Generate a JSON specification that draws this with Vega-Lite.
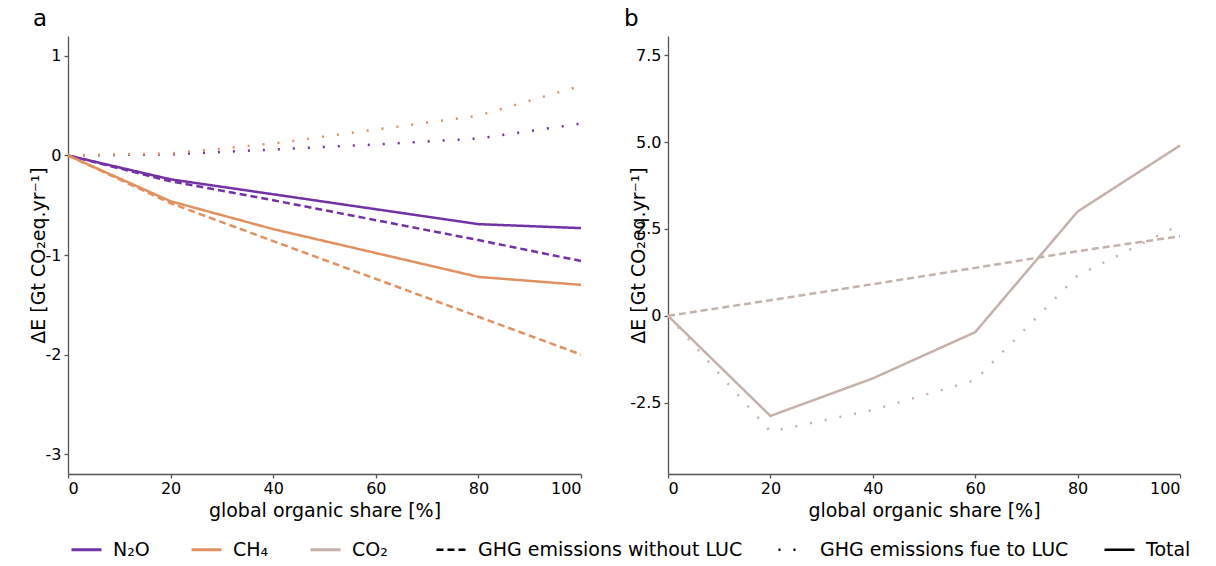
{
  "$schema": "https://vega.github.io/schema/vega-lite/v6.json",
  "padding": {"left": 29, "top": 8, "right": 5, "bottom": 0},
  "background": "white",
  "config": {
    "font": "DejaVu Sans",
    "view": {"stroke": null},
    "axis": {
      "grid": false,
      "domainColor": "#555555",
      "domainWidth": 1.3,
      "tickColor": "#555555",
      "tickWidth": 1.3,
      "tickSize": 4,
      "labelFont": "DejaVu Sans",
      "labelFontSize": 16,
      "labelColor": "#000000",
      "titleFont": "DejaVu Sans",
      "titleFontSize": 19,
      "titleFontWeight": "normal",
      "titleColor": "#000000"
    },
    "legend": {
      "labelFont": "DejaVu Sans",
      "labelFontSize": 19,
      "labelColor": "#000000",
      "labelLimit": 0,
      "symbolType": "stroke",
      "symbolSize": 900,
      "symbolStrokeWidth": 3,
      "labelOffset": 10,
      "columnPadding": 35,
      "padding": 0
    },
    "title": {"font": "DejaVu Sans", "fontSize": 23, "fontWeight": "normal", "color": "#000000"}
  },
  "datasets": {
    "emissions": [
      {"panel": "a", "gas": "N₂O", "type": "Total", "share": 0, "dE": 0},
      {"panel": "a", "gas": "N₂O", "type": "Total", "share": 20, "dE": -0.24},
      {"panel": "a", "gas": "N₂O", "type": "Total", "share": 40, "dE": -0.39},
      {"panel": "a", "gas": "N₂O", "type": "Total", "share": 60, "dE": -0.54},
      {"panel": "a", "gas": "N₂O", "type": "Total", "share": 80, "dE": -0.69},
      {"panel": "a", "gas": "N₂O", "type": "Total", "share": 100, "dE": -0.73},
      {"panel": "a", "gas": "N₂O", "type": "GHG emissions without LUC", "share": 0, "dE": 0},
      {"panel": "a", "gas": "N₂O", "type": "GHG emissions without LUC", "share": 20, "dE": -0.26},
      {"panel": "a", "gas": "N₂O", "type": "GHG emissions without LUC", "share": 40, "dE": -0.45},
      {"panel": "a", "gas": "N₂O", "type": "GHG emissions without LUC", "share": 60, "dE": -0.65},
      {"panel": "a", "gas": "N₂O", "type": "GHG emissions without LUC", "share": 80, "dE": -0.85},
      {"panel": "a", "gas": "N₂O", "type": "GHG emissions without LUC", "share": 100, "dE": -1.06},
      {"panel": "a", "gas": "N₂O", "type": "GHG emissions fue to LUC", "share": 0, "dE": 0},
      {"panel": "a", "gas": "N₂O", "type": "GHG emissions fue to LUC", "share": 20, "dE": 0.01},
      {"panel": "a", "gas": "N₂O", "type": "GHG emissions fue to LUC", "share": 40, "dE": 0.06},
      {"panel": "a", "gas": "N₂O", "type": "GHG emissions fue to LUC", "share": 60, "dE": 0.11},
      {"panel": "a", "gas": "N₂O", "type": "GHG emissions fue to LUC", "share": 80, "dE": 0.17},
      {"panel": "a", "gas": "N₂O", "type": "GHG emissions fue to LUC", "share": 100, "dE": 0.32},
      {"panel": "a", "gas": "CH₄", "type": "Total", "share": 0, "dE": 0},
      {"panel": "a", "gas": "CH₄", "type": "Total", "share": 20, "dE": -0.46},
      {"panel": "a", "gas": "CH₄", "type": "Total", "share": 40, "dE": -0.74},
      {"panel": "a", "gas": "CH₄", "type": "Total", "share": 60, "dE": -0.98},
      {"panel": "a", "gas": "CH₄", "type": "Total", "share": 80, "dE": -1.22},
      {"panel": "a", "gas": "CH₄", "type": "Total", "share": 100, "dE": -1.30},
      {"panel": "a", "gas": "CH₄", "type": "GHG emissions without LUC", "share": 0, "dE": 0},
      {"panel": "a", "gas": "CH₄", "type": "GHG emissions without LUC", "share": 20, "dE": -0.48},
      {"panel": "a", "gas": "CH₄", "type": "GHG emissions without LUC", "share": 40, "dE": -0.86},
      {"panel": "a", "gas": "CH₄", "type": "GHG emissions without LUC", "share": 60, "dE": -1.24},
      {"panel": "a", "gas": "CH₄", "type": "GHG emissions without LUC", "share": 80, "dE": -1.62},
      {"panel": "a", "gas": "CH₄", "type": "GHG emissions without LUC", "share": 100, "dE": -2.0},
      {"panel": "a", "gas": "CH₄", "type": "GHG emissions fue to LUC", "share": 0, "dE": 0},
      {"panel": "a", "gas": "CH₄", "type": "GHG emissions fue to LUC", "share": 20, "dE": 0.02},
      {"panel": "a", "gas": "CH₄", "type": "GHG emissions fue to LUC", "share": 40, "dE": 0.12},
      {"panel": "a", "gas": "CH₄", "type": "GHG emissions fue to LUC", "share": 60, "dE": 0.26},
      {"panel": "a", "gas": "CH₄", "type": "GHG emissions fue to LUC", "share": 80, "dE": 0.40},
      {"panel": "a", "gas": "CH₄", "type": "GHG emissions fue to LUC", "share": 100, "dE": 0.70},
      {"panel": "b", "gas": "CO₂", "type": "Total", "share": 0, "dE": 0},
      {"panel": "b", "gas": "CO₂", "type": "Total", "share": 20, "dE": -2.88},
      {"panel": "b", "gas": "CO₂", "type": "Total", "share": 40, "dE": -1.80},
      {"panel": "b", "gas": "CO₂", "type": "Total", "share": 60, "dE": -0.47},
      {"panel": "b", "gas": "CO₂", "type": "Total", "share": 80, "dE": 3.0},
      {"panel": "b", "gas": "CO₂", "type": "Total", "share": 100, "dE": 4.9},
      {"panel": "b", "gas": "CO₂", "type": "GHG emissions without LUC", "share": 0, "dE": 0},
      {"panel": "b", "gas": "CO₂", "type": "GHG emissions without LUC", "share": 20, "dE": 0.45},
      {"panel": "b", "gas": "CO₂", "type": "GHG emissions without LUC", "share": 40, "dE": 0.91},
      {"panel": "b", "gas": "CO₂", "type": "GHG emissions without LUC", "share": 60, "dE": 1.38},
      {"panel": "b", "gas": "CO₂", "type": "GHG emissions without LUC", "share": 80, "dE": 1.86},
      {"panel": "b", "gas": "CO₂", "type": "GHG emissions without LUC", "share": 100, "dE": 2.29},
      {"panel": "b", "gas": "CO₂", "type": "GHG emissions fue to LUC", "share": 0, "dE": 0},
      {"panel": "b", "gas": "CO₂", "type": "GHG emissions fue to LUC", "share": 20, "dE": -3.33},
      {"panel": "b", "gas": "CO₂", "type": "GHG emissions fue to LUC", "share": 40, "dE": -2.71},
      {"panel": "b", "gas": "CO₂", "type": "GHG emissions fue to LUC", "share": 60, "dE": -1.85},
      {"panel": "b", "gas": "CO₂", "type": "GHG emissions fue to LUC", "share": 80, "dE": 1.16},
      {"panel": "b", "gas": "CO₂", "type": "GHG emissions fue to LUC", "share": 100, "dE": 2.62}
    ]
  },
  "hconcat": [
    {
      "width": 513,
      "height": 438,
      "title": {"text": "a", "anchor": "start", "frame": "group", "dx": -35, "baseline": "alphabetic", "offset": -13},
      "layer": [
        {
          "mark": {"type": "rule", "strokeDash": [1.5, 1.5], "strokeWidth": 1, "color": "#777777"},
          "encoding": {"y": {"datum": 0, "type": "quantitative", "scale": {"domain": [-3.2, 1.2], "nice": false, "zero": false}}}
        },
        {
          "data": {"name": "emissions"},
          "transform": [{"filter": "datum.panel == 'a'"}],
          "mark": {"type": "line", "strokeCap": "butt"},
          "encoding": {
            "x": {"field": "share", "type": "quantitative", "scale": {"domain": [0, 100], "nice": false}, "axis": {"values": [0, 20, 40, 60, 80, 100], "title": "global organic share [%]", "labelPadding": 2, "titlePadding": 5}},
            "y": {"field": "dE", "type": "quantitative", "scale": {"domain": [-3.2, 1.2], "nice": false, "zero": false}, "axis": {"values": [-3, -2, -1, 0, 1], "labelExpr": "'' + datum.value", "title": "ΔE [Gt CO₂eq.yr⁻¹]", "titleX": -20, "labelPadding": 3}},
            "color": {"field": "gas", "type": "nominal", "scale": {"domain": ["N₂O", "CH₄", "CO₂"], "range": ["#7331a6", "#e0915f", "#c4b2aa"]}, "legend": {"title": null, "orient": "none", "direction": "horizontal", "legendX": 2, "legendY": 497}},
            "strokeDash": {"field": "type", "type": "nominal", "scale": {"domain": ["GHG emissions without LUC", "GHG emissions fue to LUC", "Total"], "range": [[7, 4], [2, 13], [1, 0]]}, "legend": {"title": null, "orient": "none", "direction": "horizontal", "legendX": 367, "legendY": 497, "symbolStrokeColor": "#000000", "columnPadding": 30}},
            "strokeWidth": {"field": "type", "type": "nominal", "scale": {"domain": ["GHG emissions without LUC", "GHG emissions fue to LUC", "Total"], "range": [2.5, 2.5, 3.5]}, "legend": null},
            "detail": {"field": "type"}
          }
        }
      ]
    },
    {
      "width": 512,
      "height": 438,
      "title": {"text": "b", "anchor": "start", "frame": "group", "dx": -44, "baseline": "alphabetic", "offset": -13},
      "layer": [
        {
          "mark": {"type": "rule", "strokeDash": [1.5, 1.5], "strokeWidth": 1, "color": "#333333"},
          "encoding": {"y": {"datum": 0, "type": "quantitative", "scale": {"domain": [-4.55, 8.05], "nice": false, "zero": false}}}
        },
        {
          "data": {"name": "emissions"},
          "transform": [{"filter": "datum.panel == 'b'"}],
          "mark": {"type": "line", "strokeCap": "butt"},
          "encoding": {
            "x": {"field": "share", "type": "quantitative", "scale": {"domain": [0, 100], "nice": false}, "axis": {"values": [0, 20, 40, 60, 80, 100], "title": "global organic share [%]", "labelPadding": 2, "titlePadding": 5}},
            "y": {"field": "dE", "type": "quantitative", "scale": {"domain": [-4.55, 8.05], "nice": false, "zero": false}, "axis": {"values": [-2.5, 0, 2.5, 5, 7.5], "labelExpr": "datum.value == 0 ? '0' : replace(format(datum.value, '.1f'), '−', '-')", "title": "ΔE [Gt CO₂eq.yr⁻¹]", "titleX": -20, "labelPadding": 3}},
            "color": {"field": "gas", "type": "nominal", "scale": {"domain": ["N₂O", "CH₄", "CO₂"], "range": ["#7331a6", "#e0915f", "#c4b2aa"]}},
            "strokeDash": {"field": "type", "type": "nominal", "scale": {"domain": ["GHG emissions without LUC", "GHG emissions fue to LUC", "Total"], "range": [[7, 4], [2, 13], [1, 0]]}},
            "strokeWidth": {"field": "type", "type": "nominal", "scale": {"domain": ["GHG emissions without LUC", "GHG emissions fue to LUC", "Total"], "range": [2.5, 2.5, 3.5]}, "legend": null},
            "detail": {"field": "type"}
          }
        }
      ]
    }
  ],
  "spacing": 87,
  "bounds": "flush",
  "resolve": {"scale": {"y": "independent"}}
}
